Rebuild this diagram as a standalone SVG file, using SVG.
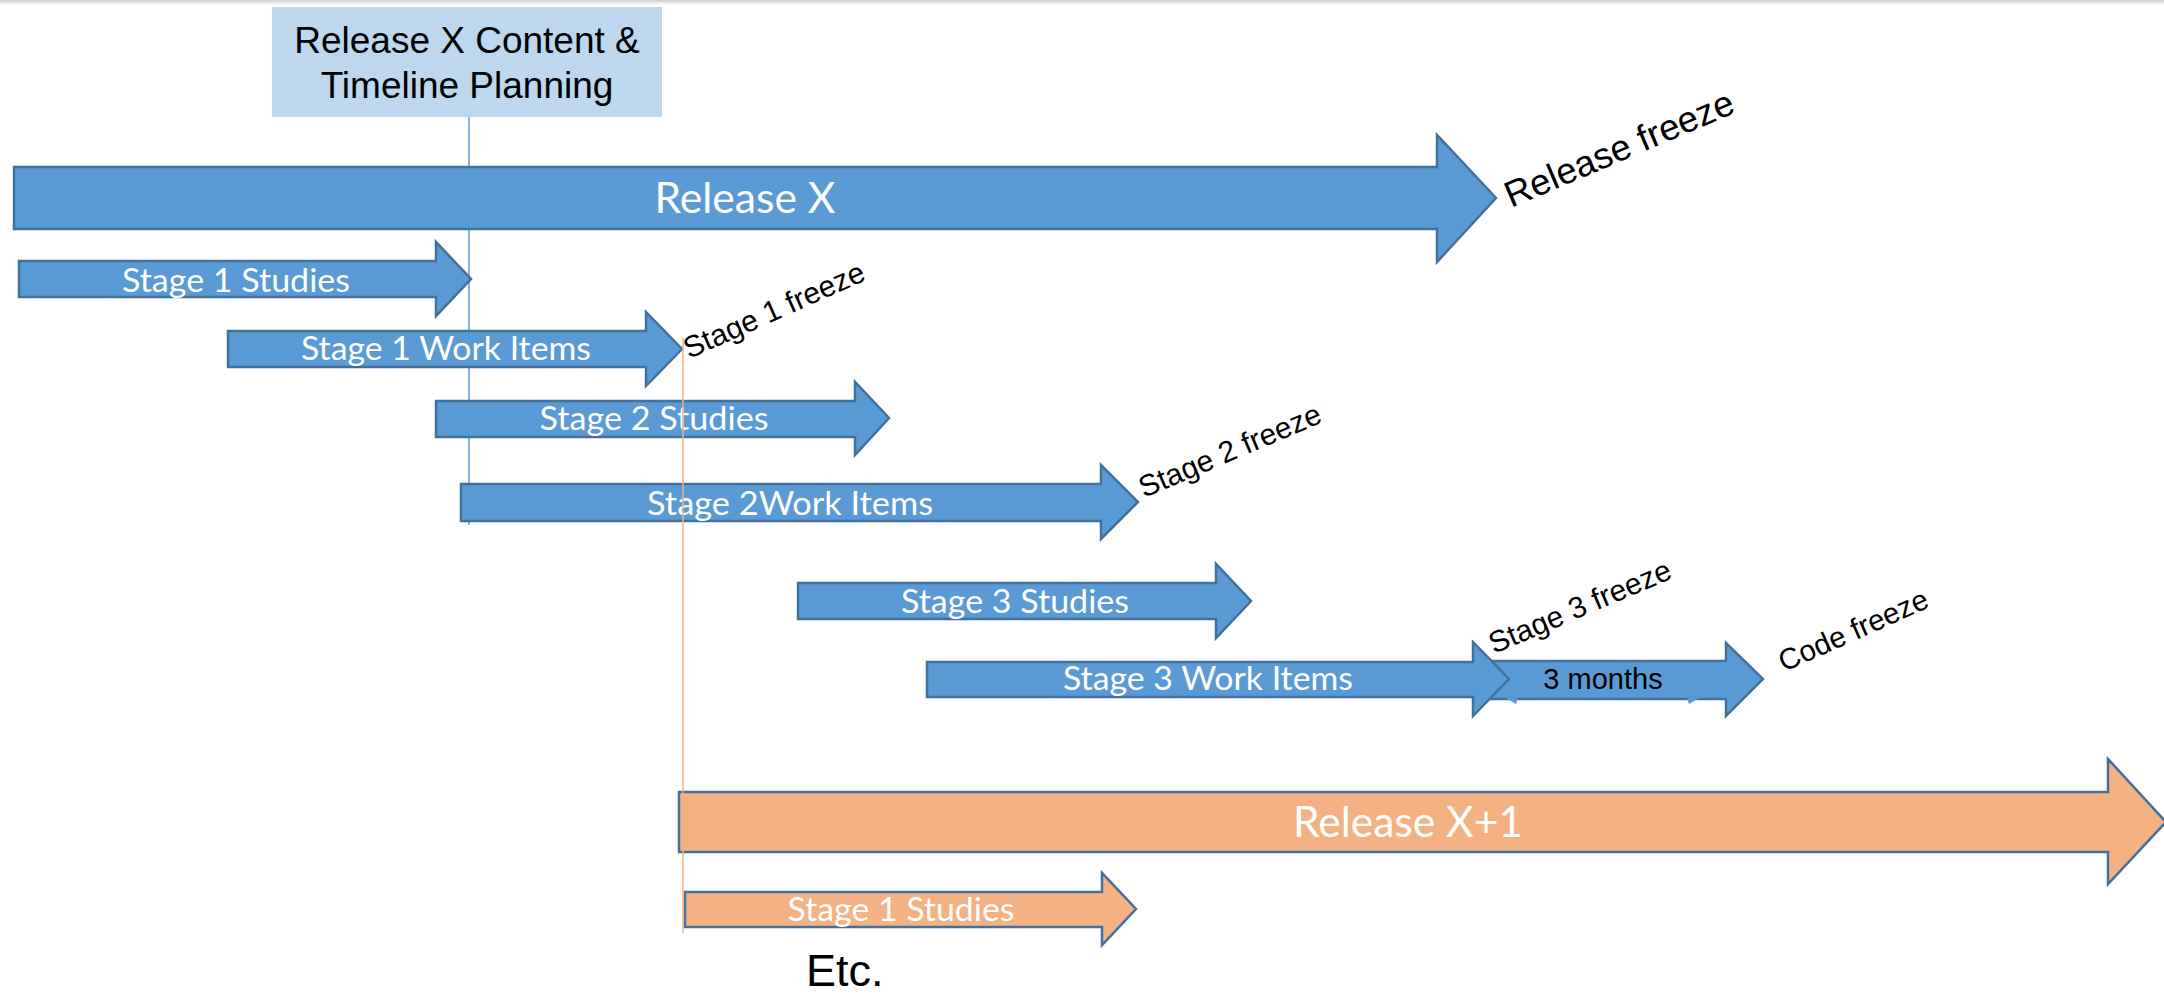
<svg xmlns="http://www.w3.org/2000/svg" width="2164" height="994" viewBox="0 0 2164 994">
  <defs>
    <linearGradient id="topfade" x1="0" y1="0" x2="0" y2="1">
      <stop offset="0" stop-color="#cfcfcf"/>
      <stop offset="1" stop-color="#ffffff"/>
    </linearGradient>
  </defs>
  <style>
    .blue { fill: #5B9BD5; stroke: #41719C; stroke-width: 2.5; stroke-linejoin: miter; }
    .orange { fill: #F4B183; stroke: #41719C; stroke-width: 2.5; stroke-linejoin: miter; }
    .lbl { font-family: Lato, "Open Sans", sans-serif; fill: #ffffff; text-anchor: middle; }
    .big { font-size: 42px; }
    .mid { font-size: 32px; }
    .blk { font-family: "Liberation Sans", Arial, sans-serif; fill: #000000; }
    .frz { font-size: 30px; }
    .vline { fill: none; stroke-width: 1.5; }
  </style>
  <rect x="0" y="0" width="2164" height="994" fill="#ffffff"/>
  <rect x="0" y="0" width="2164" height="5" fill="url(#topfade)"/>

  <g id="planning">
    <rect x="272" y="7" width="390" height="110" fill="#BDD7EE"/>
    <text class="blk" x="467" y="53" font-size="37" text-anchor="middle">Release X Content &amp;</text>
    <text class="blk" x="467" y="98" font-size="37" text-anchor="middle">Timeline Planning</text>
  </g>

  <g id="connectors">
    <line class="vline" x1="469" y1="117" x2="469" y2="525" stroke="#5B9BD5"/>
  </g>

  <g id="release-x">
    <polygon class="blue" points="14,167 1437,167 1437,135 1496,198 1437,262 1437,229 14,229"/>
    <text class="lbl big" x="745" y="213" textLength="181" lengthAdjust="spacingAndGlyphs">Release X</text>
  </g>
  <g id="release-freeze">
    <text class="blk" font-size="36.5" transform="translate(1511,208) rotate(-23)">Release freeze</text>
  </g>

  <g id="stage1-studies">
    <polygon class="blue" points="19,261 436,261 436,242 471,279 436,316 436,297 19,297"/>
    <text class="lbl mid" x="236" y="292" textLength="228" lengthAdjust="spacingAndGlyphs">Stage 1 Studies</text>
  </g>

  <g id="stage1-work-items">
    <polygon class="blue" points="228,331 646,331 646,312 682,349 646,386 646,367 228,367"/>
    <text class="lbl mid" x="446" y="360" textLength="290" lengthAdjust="spacingAndGlyphs">Stage 1 Work Items</text>
  </g>
  <g id="stage1-freeze">
    <text class="blk frz" transform="translate(689,359) rotate(-24)">Stage 1 freeze</text>
  </g>

  <g id="stage2-studies">
    <polygon class="blue" points="436,401 855,401 855,382 889,418 855,455 855,437 436,437"/>
    <text class="lbl mid" x="654" y="430" textLength="229" lengthAdjust="spacingAndGlyphs">Stage 2 Studies</text>
  </g>

  <g id="stage2-work-items">
    <polygon class="blue" points="461,484 1101,484 1101,465 1138,502 1101,539 1101,521 461,521"/>
    <text class="lbl mid" x="790" y="515" textLength="286" lengthAdjust="spacingAndGlyphs">Stage 2Work Items</text>
  </g>
  <g id="stage2-freeze">
    <text class="blk frz" transform="translate(1144,498) rotate(-23)">Stage 2 freeze</text>
  </g>

  <g id="stage3-studies">
    <polygon class="blue" points="798,583 1216,583 1216,564 1251,601 1216,638 1216,619 798,619"/>
    <text class="lbl mid" x="1015" y="613" textLength="228" lengthAdjust="spacingAndGlyphs">Stage 3 Studies</text>
  </g>

  <g id="three-months">
    <polygon class="blue" points="1488,661 1726,661 1726,643 1763,679 1726,716 1726,699 1488,699"/>
    <polygon points="1506,698 1518,698 1516,704" fill="#5B9BD5"/>
    <polygon points="1687,698 1699,698 1689,704" fill="#5B9BD5"/>
    <text class="blk" x="1603" y="689" font-size="29" text-anchor="middle">3 months</text>
  </g>

  <g id="stage3-work-items">
    <polygon class="blue" points="927,662 1473,662 1473,642 1509,679 1473,716 1473,697 927,697"/>
    <text class="lbl mid" x="1208" y="690" textLength="290" lengthAdjust="spacingAndGlyphs">Stage 3 Work Items</text>
  </g>
  <g id="stage3-freeze">
    <text class="blk frz" transform="translate(1494,654) rotate(-23)">Stage 3 freeze</text>
  </g>
  <g id="code-freeze">
    <text class="blk" font-size="29.5" transform="translate(1784,672) rotate(-24)">Code freeze</text>
  </g>

  <g id="release-x1">
    <polygon class="orange" points="679,792 2108,792 2108,759 2166,822 2108,884 2108,852 679,852"/>
    <text class="lbl big" x="1408" y="837" textLength="230" lengthAdjust="spacingAndGlyphs">Release X+1</text>
  </g>

  <g id="x1-stage1-studies">
    <polygon class="orange" points="685,892 1102,892 1102,873 1136,909 1102,945 1102,927 685,927"/>
    <text class="lbl mid" x="901" y="921" textLength="227" lengthAdjust="spacingAndGlyphs">Stage 1 Studies</text>
  </g>

  <g id="connectors-top">
    <line class="vline" x1="683" y1="338" x2="683" y2="933" stroke="#F4B183"/>
  </g>

  <g id="etc">
    <text class="blk" x="806" y="986" font-size="45">Etc.</text>
  </g>
</svg>
